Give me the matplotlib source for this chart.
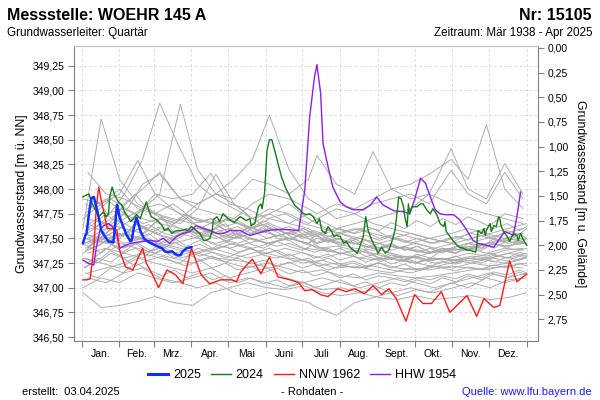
import matplotlib
matplotlib.use("Agg")
import matplotlib.pyplot as plt
from matplotlib.ticker import FixedLocator, FuncFormatter, NullFormatter
from matplotlib.lines import Line2D

plt.rcParams['font.family'] = ['Liberation Sans', 'DejaVu Sans']

#%% Daten (Tag im Jahr, Wasserstand m ü. NN)
gelaende = 349.43  # Geländehöhe

monate = ['Jan.', 'Feb.', 'Mrz.', 'Apr.', 'Mai', 'Juni', 'Juli', 'Aug.', 'Sept.', 'Okt.', 'Nov.', 'Dez.']
monat_start = [0, 31, 59, 90, 120, 151, 181, 212, 243, 273, 304, 334, 365]

tage_2025 = [1, 3, 4, 6, 8, 10, 11, 13, 15, 16, 19, 22, 26, 27, 29, 30, 31, 34, 37, 40,
             41, 43, 45, 46, 48, 51, 54, 57, 62, 66, 68, 71, 74, 77, 79, 81, 83, 86, 89, 90]
stand_2025 = [347.45, 347.53, 347.55, 347.75, 347.91, 347.92, 347.87, 347.77, 347.65, 347.58,
              347.52, 347.47, 347.46, 347.58, 347.84, 347.79, 347.72, 347.62, 347.53, 347.47,
              347.48, 347.62, 347.71, 347.67, 347.58, 347.50, 347.47, 347.45, 347.42, 347.40,
              347.37, 347.36, 347.37, 347.34, 347.33, 347.33, 347.37, 347.40, 347.41, 347.41]

tage_2024 = [1, 4, 6, 8, 10, 12, 14, 18, 20, 22,
             23, 25, 27, 30, 33, 35, 38, 40, 42, 45,
             48, 50, 53, 55, 57, 60, 63, 66, 68, 71,
             74, 76, 79, 82, 85, 87, 90, 94, 97, 100,
             102, 105, 107, 108, 111, 113, 116, 120, 125, 130,
             135, 138, 139, 142, 145, 147, 148, 150, 152, 154,
             156, 157, 159, 161, 164, 167, 171, 174, 176, 179,
             182, 185, 187, 190, 193, 195, 197, 200, 202, 205,
             207, 209, 212, 215, 217, 220, 223, 226, 228, 231,
             233, 235, 238, 241, 243, 246, 249, 252, 254, 257,
             259, 260, 262, 264, 265, 267, 268, 269, 271, 275,
             278, 280, 283, 286, 288, 291, 294, 297, 298, 299,
             302, 305, 308, 310, 313, 316, 318, 321, 323, 324,
             325, 328, 330, 331, 332, 334, 335, 336, 338, 340,
             342, 343, 344, 346, 349, 351, 353, 354, 357, 358,
             360, 361, 364, 365]
stand_2024 = [347.92, 347.94, 347.95, 347.87, 347.82, 347.77, 347.72, 347.77, 347.72, 347.75,
              347.92, 348.02, 347.94, 347.87, 347.84, 347.77, 347.72, 347.67, 347.69, 347.74,
              347.70, 347.77, 347.87, 347.79, 347.72, 347.70, 347.67, 347.63, 347.58, 347.60,
              347.55, 347.57, 347.58, 347.58, 347.59, 347.58, 347.62, 347.58, 347.55, 347.48,
              347.48, 347.50, 347.57, 347.69, 347.72, 347.67, 347.75, 347.70, 347.66, 347.72,
              347.68, 347.70, 347.63, 347.65, 347.82, 347.85, 347.80, 347.96, 348.39, 348.50,
              348.50, 348.45, 348.36, 348.26, 348.12, 348.02, 347.92, 347.85, 347.82, 347.79,
              347.75, 347.74, 347.75, 347.72, 347.65, 347.70, 347.58, 347.55, 347.62, 347.57,
              347.52, 347.53, 347.52, 347.45, 347.47, 347.41, 347.38, 347.35, 347.41, 347.52,
              347.72, 347.58, 347.48, 347.41, 347.35, 347.41, 347.35, 347.38, 347.45, 347.58,
              347.79, 347.92, 347.90, 347.82, 347.72, 347.62, 347.85, 347.75, 347.82, 347.82,
              347.85, 347.85, 347.79, 347.75, 347.80, 347.75, 347.65, 347.62, 347.67, 347.57,
              347.52, 347.47, 347.43, 347.41, 347.40, 347.38, 347.38, 347.37, 347.36, 347.41,
              347.58, 347.55, 347.60, 347.53, 347.58, 347.63, 347.65, 347.57, 347.63, 347.62,
              347.72, 347.70, 347.63, 347.57, 347.52, 347.47, 347.52, 347.55, 347.53, 347.48,
              347.55, 347.52, 347.45, 347.43]

tage_nnw = [1, 4, 7, 10, 12, 14, 16, 19, 21, 25,
            29, 31, 36, 42, 48, 50, 53, 59, 63, 70,
            77, 83, 90, 98, 105, 114, 123, 127, 130, 134,
            140, 147, 154, 161, 171, 178, 183, 189, 196, 202,
            210, 217, 224, 232, 239, 246, 252, 258, 266, 273,
            280, 287, 295, 302, 316, 324, 330, 338, 343, 351,
            357, 365]
stand_nnw = [347.08, 347.08, 347.09, 347.41, 347.82, 348.02, 347.89, 347.72, 347.60, 347.60,
             347.58, 347.38, 347.21, 347.18, 347.35, 347.40, 347.25, 347.11, 347.00, 347.18,
             347.13, 347.04, 347.40, 347.13, 347.04, 347.08, 347.08, 347.06, 347.15, 347.21,
             347.29, 347.14, 347.31, 347.11, 347.08, 347.05, 346.97, 346.98, 346.93, 346.91,
             346.99, 346.96, 346.99, 346.94, 347.02, 346.93, 346.99, 346.89, 346.66, 346.93,
             346.84, 346.84, 346.96, 346.75, 346.92, 346.71, 346.89, 346.80, 346.82, 347.27,
             347.06, 347.14]

tage_hhw = [1, 5, 10, 12, 15, 18, 22, 25, 29, 31,
            36, 40, 45, 51, 56, 62, 67, 72, 78, 83,
            89, 94, 100, 105, 111, 116, 122, 130, 138, 144,
            152, 160, 168, 178, 183, 187, 191, 193, 196, 198,
            202, 206, 212, 217, 223, 231, 237, 242, 247, 256,
            264, 269, 273, 278, 282, 286, 290, 294, 298, 305,
            310, 316, 321, 325, 332, 338, 343, 347, 351, 354,
            357, 360]
stand_hhw = [347.28, 347.25, 347.23, 347.41, 347.58, 347.63, 347.65, 347.62, 347.53, 347.40,
             347.43, 347.45, 347.46, 347.47, 347.48, 347.47, 347.50, 347.45, 347.52, 347.55,
             347.57, 347.63, 347.60, 347.58, 347.55, 347.55, 347.58, 347.58, 347.53, 347.55,
             347.58, 347.59, 347.59, 347.58, 347.99, 348.73, 349.14, 349.26, 348.97, 348.46,
             348.23, 348.02, 347.87, 347.82, 347.79, 347.79, 347.84, 347.92, 347.84, 347.78,
             347.77, 347.75, 347.89, 348.11, 348.06, 347.92, 347.79, 347.75, 347.74, 347.74,
             347.69, 347.58, 347.48, 347.45, 347.43, 347.41, 347.50, 347.57, 347.55, 347.53,
             347.72, 347.97]

# übrige Jahre (grau), drei Messraster
raster_a = [1, 16, 31, 46, 60, 75, 91, 106, 121, 136, 152, 167, 182, 197, 213, 228, 244,
            259, 274, 289, 305, 320, 335, 350, 365]
raster_b = [5, 20, 35, 50, 64, 81, 95, 110, 125, 140, 154, 170, 186, 193, 209, 224, 239,
            254, 270, 285, 303, 317, 332, 347, 362]
raster_c = [3, 13, 24, 34, 44, 55, 66, 76, 86, 97, 107, 118, 128, 139, 149, 160, 170, 181,
            191, 202, 212, 223, 233, 244, 254, 265, 275, 286, 296, 307, 317, 328, 338, 349,
            359, 365]

grau_a = [
    [347.60, 348.71, 348.10, 347.85, 347.75, 347.70, 347.65, 347.55, 347.60, 347.50, 347.45, 347.50, 347.40,
     347.38, 347.35, 347.30, 347.35, 347.28, 347.25, 347.30, 347.28, 347.32, 347.30, 347.35, 347.40],
    [346.95, 346.80, 346.82, 346.86, 346.91, 346.85, 346.82, 346.95, 347.00, 347.05, 347.00, 346.98, 347.02,
     346.95, 346.92, 346.95, 346.90, 346.88, 346.92, 346.88, 346.90, 346.92, 346.88, 346.90, 346.95],
    [347.35, 347.45, 347.55, 347.50, 347.45, 347.40, 347.35, 347.40, 347.35, 347.30, 347.35, 347.30, 347.25,
     347.28, 347.22, 347.20, 347.25, 347.20, 347.18, 347.22, 347.20, 347.25, 347.22, 347.25, 347.30],
    [347.20, 347.30, 347.45, 347.40, 347.35, 347.30, 347.25, 347.30, 347.25, 347.20, 347.25, 347.20, 347.15,
     347.18, 347.12, 347.10, 347.15, 347.12, 347.10, 347.12, 347.15, 347.18, 347.20, 347.22, 347.25],
    [347.45, 347.35, 347.50, 347.65, 347.55, 347.50, 347.60, 347.45, 347.40, 347.45, 347.50, 347.55, 347.45,
     347.40, 347.35, 347.38, 347.30, 347.28, 347.25, 347.30, 347.28, 347.25, 347.30, 347.35, 347.32],
    [347.90, 347.85, 348.00, 347.80, 347.75, 347.85, 347.70, 347.65, 347.70, 347.60, 347.65, 347.55, 347.60,
     347.50, 347.55, 347.50, 347.45, 347.50, 347.45, 347.40, 347.45, 347.50, 347.55, 347.60, 347.65],
    [347.55, 347.50, 347.60, 347.75, 347.95, 347.80, 347.65, 347.70, 347.55, 347.60, 347.50, 347.55, 347.60,
     347.50, 347.45, 347.50, 347.45, 347.40, 347.45, 347.40, 347.35, 347.40, 347.45, 347.50, 347.45],
    [347.30, 347.25, 347.20, 347.30, 347.25, 347.20, 347.15, 347.20, 347.10, 347.15, 347.20, 347.10, 347.05,
     347.10, 347.05, 347.00, 347.05, 347.10, 347.05, 347.00, 347.05, 347.10, 347.15, 347.10, 347.15],
    [347.70, 347.85, 347.95, 348.29, 347.95, 347.90, 347.95, 348.16, 347.85, 347.80, 347.70, 347.75, 347.65,
     347.60, 347.55, 347.60, 347.50, 347.55, 347.50, 347.45, 347.50, 347.55, 347.50, 347.45, 347.50],
    [347.00, 347.10, 347.05, 347.15, 347.10, 347.05, 347.10, 347.15, 347.05, 347.10, 347.05, 347.00, 347.05,
     346.98, 347.00, 346.95, 347.00, 346.92, 346.98, 346.95, 347.00, 347.05, 347.00, 347.08, 347.10],
    [347.45, 347.50, 347.40, 347.45, 347.35, 347.45, 347.50, 347.55, 347.45, 347.40, 347.35, 347.40, 347.35,
     347.30, 347.35, 347.30, 347.28, 347.32, 347.30, 347.25, 347.28, 347.30, 347.35, 347.30, 347.35],
]
grau_b = [
    [347.55, 347.70, 347.95, 348.30, 348.87, 348.40, 348.05, 347.90, 347.80, 347.70, 347.75, 347.65, 347.60,
     347.55, 347.50, 347.45, 347.40, 347.42, 347.38, 347.35, 347.40, 347.45, 347.50, 347.55, 347.60],
    [347.40, 347.55, 347.70, 347.80, 347.95, 348.86, 348.20, 347.95, 347.85, 347.70, 347.60, 347.55, 347.50,
     347.45, 347.50, 347.45, 347.40, 347.35, 347.30, 347.35, 347.40, 347.38, 347.45, 347.50, 347.55],
    [347.45, 347.50, 347.55, 347.60, 347.55, 347.70, 347.85, 347.95, 348.10, 348.30, 348.75, 348.20, 347.90,
     347.85, 347.70, 347.75, 347.65, 347.60, 347.55, 347.50, 347.55, 347.60, 347.55, 347.50, 347.55],
    [347.70, 347.65, 347.60, 347.55, 347.70, 347.65, 347.80, 347.75, 347.70, 347.85, 347.95, 347.90, 347.80,
     347.75, 347.85, 347.80, 347.90, 348.00, 348.05, 348.15, 348.30, 348.10, 348.65, 348.00, 347.80],
    [347.50, 347.60, 347.75, 348.05, 348.15, 347.90, 347.85, 347.95, 347.90, 348.10, 348.05, 347.95, 348.10,
     348.34, 348.05, 347.95, 348.38, 348.00, 347.90, 347.95, 347.85, 347.80, 347.75, 347.70, 347.65],
    [347.10, 347.05, 347.15, 347.20, 347.10, 347.05, 347.00, 347.05, 346.95, 346.90, 346.95, 346.90, 346.85,
     346.80, 346.72, 346.85, 346.90, 346.95, 347.00, 346.95, 347.05, 347.00, 347.10, 347.05, 347.10],
    [347.60, 347.75, 347.80, 347.70, 347.65, 347.60, 347.55, 347.50, 347.55, 347.50, 347.45, 347.50, 347.45,
     347.40, 347.42, 347.38, 347.35, 347.30, 347.32, 347.28, 347.30, 347.35, 347.32, 347.38, 347.40],
    [347.80, 347.90, 347.75, 347.65, 347.70, 347.60, 347.55, 347.60, 347.50, 347.55, 347.60, 347.50, 347.45,
     347.50, 347.45, 347.40, 347.38, 347.42, 347.40, 347.35, 347.38, 347.40, 347.45, 347.42, 347.45],
    [347.25, 347.40, 347.35, 347.30, 347.45, 347.40, 347.35, 347.30, 347.28, 347.25, 347.20, 347.25, 347.30,
     347.25, 347.20, 347.22, 347.18, 347.15, 347.20, 347.18, 347.22, 347.20, 347.18, 347.22, 347.20],
    [347.15, 347.20, 347.25, 347.35, 347.30, 347.25, 347.40, 347.35, 347.30, 347.35, 347.40, 347.30, 347.28,
     347.22, 347.25, 347.20, 347.22, 347.18, 347.15, 347.20, 347.25, 347.30, 347.28, 347.25, 347.30],
    [347.40, 347.60, 347.85, 348.00, 348.17, 347.90, 347.80, 348.15, 347.85, 347.70, 347.80, 347.75, 347.65,
     347.70, 347.60, 347.55, 347.60, 347.50, 347.55, 347.50, 347.45, 347.55, 347.60, 347.75, 347.70],
    [347.65, 347.55, 347.45, 347.50, 347.60, 347.55, 347.50, 347.45, 347.50, 347.65, 347.75, 347.85, 347.70,
     347.65, 347.55, 347.60, 347.55, 347.50, 347.45, 347.50, 347.45, 347.40, 347.35, 347.40, 347.38],
    [347.35, 347.40, 347.30, 347.35, 347.40, 347.30, 347.35, 347.40, 347.45, 347.40, 347.45, 347.50, 347.45,
     347.55, 347.60, 347.65, 347.70, 347.75, 347.80, 347.95, 348.41, 348.00, 347.90, 348.26, 347.95],
    [347.50, 347.45, 347.55, 347.50, 347.45, 347.55, 347.60, 347.55, 347.50, 347.60, 347.70, 347.65, 347.75,
     347.70, 347.80, 347.75, 347.85, 347.90, 347.95, 347.85, 348.19, 347.95, 347.85, 348.17, 347.90],
    [348.17, 347.95, 347.90, 347.80, 347.85, 347.75, 347.70, 347.65, 347.70, 347.60, 347.55, 347.50, 347.55,
     347.45, 347.50, 347.45, 347.40, 347.42, 347.38, 347.35, 347.40, 347.45, 347.42, 347.48, 347.50],
]
grau_c = [
    [347.62, 347.70, 347.58, 347.75, 347.65, 347.60, 347.72, 347.55, 347.60, 347.52, 347.58, 347.65,
     347.50, 347.55, 347.62, 347.50, 347.48, 347.55, 347.45, 347.50, 347.42, 347.48, 347.40, 347.45,
     347.38, 347.42, 347.36, 347.40, 347.35, 347.42, 347.38, 347.45, 347.40, 347.48, 347.44, 347.50],
    [347.50, 347.45, 347.55, 347.62, 347.48, 347.55, 347.45, 347.50, 347.42, 347.48, 347.40, 347.46,
     347.52, 347.44, 347.40, 347.47, 347.42, 347.38, 347.44, 347.36, 347.40, 347.33, 347.38, 347.30,
     347.35, 347.28, 347.32, 347.27, 347.30, 347.25, 347.30, 347.28, 347.33, 347.30, 347.36, 347.34],
    [347.38, 347.42, 347.50, 347.40, 347.45, 347.36, 347.42, 347.35, 347.38, 347.32, 347.36, 347.30,
     347.35, 347.40, 347.33, 347.30, 347.34, 347.28, 347.25, 347.30, 347.24, 347.27, 347.22, 347.25,
     347.20, 347.24, 347.18, 347.22, 347.20, 347.17, 347.21, 347.19, 347.23, 347.20, 347.25, 347.22],
    [347.75, 347.88, 347.70, 347.82, 347.95, 347.78, 347.70, 347.65, 347.72, 347.60, 347.66, 347.58,
     347.62, 347.55, 347.60, 347.52, 347.56, 347.50, 347.54, 347.46, 347.50, 347.44, 347.48, 347.40,
     347.44, 347.38, 347.42, 347.36, 347.40, 347.35, 347.45, 347.40, 347.50, 347.46, 347.55, 347.50],
    [347.30, 347.25, 347.35, 347.30, 347.22, 347.28, 347.32, 347.26, 347.22, 347.28, 347.20, 347.25,
     347.18, 347.22, 347.15, 347.20, 347.14, 347.18, 347.12, 347.16, 347.10, 347.14, 347.08, 347.12,
     347.10, 347.06, 347.10, 347.08, 347.12, 347.09, 347.14, 347.10, 347.16, 347.13, 347.18, 347.15],
    [347.45, 347.52, 347.48, 347.55, 347.50, 347.58, 347.52, 347.48, 347.55, 347.62, 347.58, 347.70,
     347.65, 347.60, 347.68, 347.62, 347.58, 347.52, 347.56, 347.50, 347.46, 347.50, 347.44, 347.40,
     347.45, 347.38, 347.42, 347.36, 347.40, 347.38, 347.42, 347.40, 347.45, 347.42, 347.46, 347.44],
    [347.58, 347.62, 347.70, 347.66, 347.58, 347.64, 347.56, 347.52, 347.58, 347.50, 347.54, 347.48,
     347.45, 347.50, 347.46, 347.42, 347.45, 347.40, 347.36, 347.40, 347.34, 347.38, 347.32, 347.28,
     347.33, 347.30, 347.26, 347.30, 347.28, 347.32, 347.27, 347.30, 347.26, 347.31, 347.28, 347.32],
    [347.20, 347.30, 347.26, 347.35, 347.40, 347.32, 347.38, 347.30, 347.35, 347.28, 347.32, 347.26,
     347.30, 347.24, 347.28, 347.22, 347.26, 347.20, 347.24, 347.18, 347.22, 347.25, 347.20, 347.26,
     347.30, 347.28, 347.34, 347.30, 347.38, 347.35, 347.42, 347.38, 347.45, 347.40, 347.48, 347.45],
    [347.85, 347.78, 347.90, 347.82, 347.75, 347.80, 347.72, 347.68, 347.74, 347.66, 347.70, 347.62,
     347.66, 347.60, 347.64, 347.58, 347.62, 347.55, 347.58, 347.52, 347.55, 347.50, 347.53, 347.48,
     347.52, 347.46, 347.50, 347.45, 347.48, 347.52, 347.48, 347.55, 347.50, 347.58, 347.54, 347.60],
    [347.15, 347.10, 347.20, 347.15, 347.25, 347.18, 347.12, 347.18, 347.10, 347.15, 347.08, 347.12,
     347.05, 347.10, 347.04, 347.08, 347.02, 347.06, 347.00, 347.04, 347.08, 347.02, 347.06, 347.00,
     347.05, 347.02, 347.08, 347.04, 347.10, 347.06, 347.12, 347.08, 347.14, 347.10, 347.16, 347.12],
    [347.40, 347.48, 347.44, 347.36, 347.45, 347.50, 347.42, 347.46, 347.40, 347.44, 347.38, 347.42,
     347.36, 347.40, 347.34, 347.38, 347.32, 347.36, 347.30, 347.34, 347.28, 347.32, 347.26, 347.30,
     347.24, 347.28, 347.25, 347.22, 347.26, 347.24, 347.28, 347.25, 347.30, 347.27, 347.32, 347.30],
    [347.55, 347.48, 347.60, 347.52, 347.65, 347.58, 347.62, 347.55, 347.60, 347.54, 347.58, 347.50,
     347.55, 347.62, 347.56, 347.60, 347.54, 347.58, 347.52, 347.56, 347.60, 347.55, 347.62, 347.58,
     347.66, 347.60, 347.68, 347.62, 347.70, 347.64, 347.72, 347.66, 347.60, 347.65, 347.58, 347.62],
]

#%% Plot
fig = plt.figure(figsize=(6, 4), dpi=100)
ax = fig.add_axes([74/600, 59/400, 464/600, 295/400])

grau = '#a9a9a9'
for werte in grau_a:
    ax.plot(raster_a[:len(werte)], werte, color=grau, lw=0.65, zorder=2)
for werte in grau_b:
    ax.plot(raster_b[:len(werte)], werte, color=grau, lw=0.65, zorder=2)
for werte in grau_c:
    ax.plot(raster_c[:len(werte)], werte, color=grau, lw=0.65, zorder=2)

ax.plot(tage_hhw, stand_hhw, color='#8b1ef0', lw=1.0, zorder=3)
ax.plot(tage_nnw, stand_nnw, color='#ff1a1a', lw=1.0, zorder=3)
ax.plot(tage_2024, stand_2024, color='#187a18', lw=1.0, zorder=4)
ax.plot(tage_2025, stand_2025, color='#1030ff', lw=1.8, zorder=5)

y_unten, y_oben = 346.46, 349.45
ax.set_xlim(-6.3, 374.3)
ax.set_ylim(y_unten, y_oben)

komma = FuncFormatter(lambda v, p: f"{v:.2f}".replace('.', ','))
ax.yaxis.set_major_locator(FixedLocator([346.5 + 0.25*i for i in range(12)]))
ax.yaxis.set_major_formatter(komma)
ax.xaxis.set_major_locator(FixedLocator(monat_start))
ax.xaxis.set_major_formatter(NullFormatter())
mitte = [(monat_start[i] + monat_start[i+1]) / 2 for i in range(12)]
ax.xaxis.set_minor_locator(FixedLocator(mitte))
ax.xaxis.set_minor_formatter(FuncFormatter(lambda v, p: monate[p]))
ax.tick_params(axis='x', which='minor', length=0, labelsize=7.5, pad=6)
ax.tick_params(axis='x', which='major', length=4, color='#808080')
ax.tick_params(axis='y', labelsize=7.5, length=4, color='#808080', pad=3)

ax.grid(True, which='major', color='#d4d4d4', lw=0.6, ls=(0, (3, 3)), zorder=0)
for s in ['left', 'bottom', 'right']:
    ax.spines[s].set_color('#808080')
ax.spines['top'].set_color('#c0c0c0')

ax2 = ax.twinx()
ax2.set_ylim(gelaende - y_unten, gelaende - y_oben)
ax2.yaxis.set_major_locator(FixedLocator([0.25*i for i in range(12)]))
ax2.yaxis.set_major_formatter(komma)
ax2.tick_params(axis='y', labelsize=7.5, length=4, color='#808080', pad=3)
for s in ax2.spines.values():
    s.set_visible(False)

fig.text(22/600, 1 - 193.5/400, 'Grundwasserstand [m ü. NN]', rotation=90,
         ha='center', va='center', fontsize=8.8)
fig.text(580/600, 1 - 194/400, 'Grundwasserstand [m u. Gelände]', rotation=270,
         ha='center', va='center', fontsize=8.8)

# Kopf und Fuß
fig.text(7/600, 1 - 15/400, 'Messstelle: WOEHR 145 A', fontsize=11.5, fontweight='bold',
         ha='left', va='center')
fig.text(592/600, 1 - 15/400, 'Nr: 15105', fontsize=11.5, fontweight='bold',
         ha='right', va='center')
fig.text(7/600, 1 - 33/400, 'Grundwasserleiter: Quartär', fontsize=8.4, ha='left', va='center')
fig.text(592/600, 1 - 33/400, 'Zeitraum: Mär 1938 - Apr 2025', fontsize=8.4, ha='right', va='center')

fig.text(22/600, 1 - 392/400, 'erstellt:  03.04.2025', fontsize=8, ha='left', va='center')
fig.text(312/600, 1 - 392/400, '- Rohdaten -', fontsize=8, ha='center', va='center')
fig.text(592/600, 1 - 392/400, 'Quelle: www.lfu.bayern.de', fontsize=8, ha='right',
         va='center', color='#1a1aff')

handles = [Line2D([], [], color='#1030ff', lw=2.2),
           Line2D([], [], color='#187a18', lw=1.0),
           Line2D([], [], color='#ff1a1a', lw=1.0),
           Line2D([], [], color='#8b1ef0', lw=1.0)]
fig.legend(handles, ['2025', '2024', 'NNW 1962', 'HHW 1954'], loc='center',
           bbox_to_anchor=(302/600, 1 - 375/400), ncol=4, frameon=False, fontsize=9,
           handlelength=1.6, handletextpad=0.4, columnspacing=0.8)

fig.savefig('out.png', dpi=100)
